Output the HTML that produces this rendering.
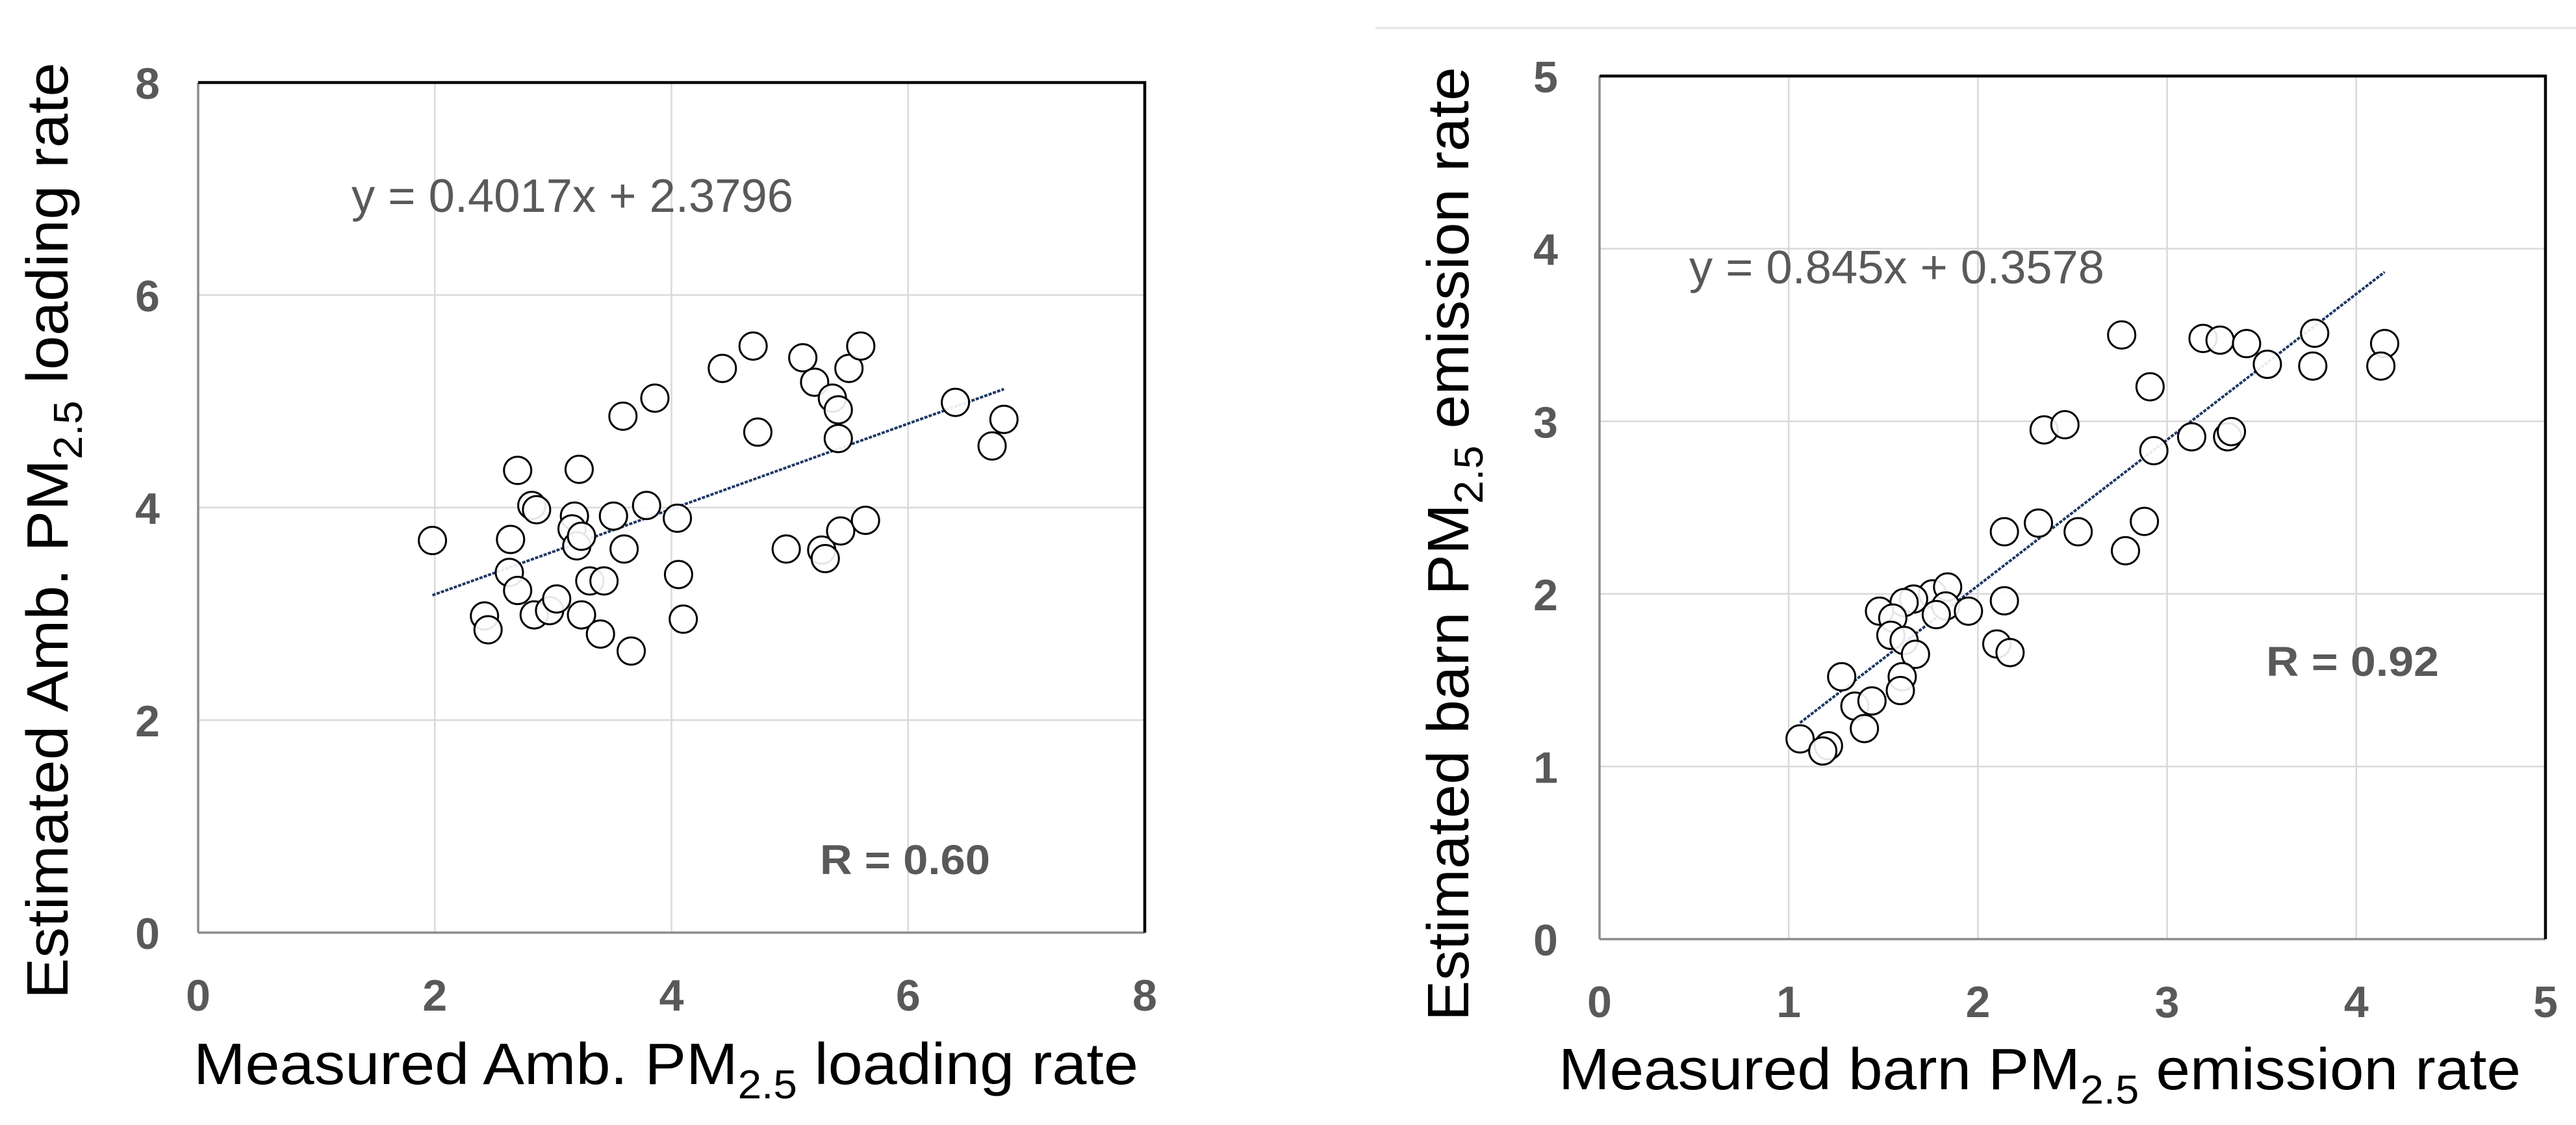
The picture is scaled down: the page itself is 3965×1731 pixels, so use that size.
<!DOCTYPE html>
<html><head><meta charset="utf-8"><style>
html,body{margin:0;padding:0;background:#fff;}
svg{display:block;font-family:"Liberation Sans",sans-serif;}
</style></head><body>
<svg id="chart" width="3965" height="1731" viewBox="0 0 3965 1731" xmlns="http://www.w3.org/2000/svg">
<line x1="2117" y1="43" x2="3965" y2="43" stroke="#e6e6e6" stroke-width="3"/>
</svg>
<script>
// Left chart data
const ambMeasured = [1.98,2.42,2.45,2.63,2.64,2.70,2.70,2.82,2.86,2.84,2.97,3.03,3.22,3.18,3.16,3.20,3.24,3.24,3.31,3.43,3.40,3.51,3.59,3.60,3.66,3.79,3.86,4.05,4.06,4.10,4.43,4.69,4.73,4.97,5.11,5.21,5.27,5.30,5.36,5.41,5.41,5.43,5.50,5.60,5.64,6.40,6.71,6.81];
const ambEstimated = [3.69,2.98,2.85,3.39,3.70,4.35,3.22,4.02,3.98,2.99,3.03,3.14,4.36,3.92,3.80,3.64,3.73,2.99,3.31,3.31,2.81,3.92,4.86,3.61,2.65,4.02,5.03,3.90,3.37,2.95,5.31,5.52,4.71,3.61,5.41,5.18,3.60,3.52,5.03,4.92,4.65,3.78,5.31,5.52,3.88,4.99,4.58,4.83];
const ambTicks = [0,2,4,6,8];
const ambFit = [0.4017, 2.3796];
const ambFitRange = [1.98, 6.81];
// Right chart data
const barnMeasured = [2.76,3.19,3.28,3.42,3.78,3.53,3.77,4.15,4.13,2.91,2.35,2.46,3.13,3.32,3.34,2.93,2.32,2.53,2.14,2.88,2.78,1.76,1.84,1.66,1.61,1.48,1.55,1.83,1.95,1.78,2.14,1.54,1.61,1.67,2.10,2.17,1.60,1.59,1.28,1.35,1.44,1.40,1.06,1.21,1.18];
const barnEstimated = [3.50,3.48,3.47,3.45,3.51,3.33,3.32,3.45,3.32,3.20,2.95,2.98,2.91,2.91,2.94,2.83,2.41,2.36,2.36,2.42,2.25,2.00,2.04,1.97,1.95,1.90,1.86,1.93,1.90,1.88,1.96,1.76,1.73,1.65,1.71,1.66,1.52,1.44,1.52,1.35,1.38,1.22,1.16,1.12,1.09];
const barnTicks = [0,1,2,3,4,5];
const barnFit = [0.845, 0.3578];
const barnFitRange = [1.06, 4.15];

const NS = "http://www.w3.org/2000/svg";
const svg = document.getElementById('chart');
function mk(tag, attrs, parent){
  const e = document.createElementNS(NS, tag);
  for (const k in attrs) e.setAttribute(k, attrs[k]);
  (parent||svg).appendChild(e);
  return e;
}

function drawChart(cfg){
  const g = mk('g', {});
  
  
  const L=cfg.L, R=cfg.R, T=cfg.T, B=cfg.B, max=cfg.max;
  const sx = v => L + v/max*(R-L);
  const sy = v => B - v/max*(B-T);
  // gridlines
  cfg.ticks.forEach(t=>{
    if (t>0 && t<max){
      const gv = mk('line',{x1:sx(t),y1:T,x2:sx(t),y2:B,stroke:'#d9d9d9','stroke-width':2.5},g);
      
      
      const gh = mk('line',{x1:L,y1:sy(t),x2:R,y2:sy(t),stroke:'#d9d9d9','stroke-width':2.5},g);
      
      
    }
  });
  // frame
  const ax = mk('line',{x1:L,y1:B,x2:R,y2:B,stroke:'#8c8c8c','stroke-width':3.5},g);
  
  
  const ay = mk('line',{x1:L,y1:T,x2:L,y2:B,stroke:'#8c8c8c','stroke-width':3.5},g);
  
  
  const ft = mk('path',{d:`M${L} ${T} H${R} V${B}`,fill:'none',stroke:'#000','stroke-width':4.5},g);
  
  
  // tick labels
  cfg.ticks.forEach(t=>{
    const tx = mk('text',{x:sx(t),y:B+120,'text-anchor':'middle','font-size':68,'font-weight':'bold',fill:'#595959'},g);
    tx.textContent = t;
    
    
    const ty = mk('text',{x:cfg.yLabX,y:sy(t)+25,'text-anchor':'end','font-size':68,'font-weight':'bold',fill:'#595959'},g);
    ty.textContent = t;
    
    
  });
  // fit line
  const fl = mk('line',{x1:sx(cfg.fitRange[0]),y1:sy(cfg.fit[0]*cfg.fitRange[0]+cfg.fit[1]),x2:sx(cfg.fitRange[1]),y2:sy(cfg.fit[0]*cfg.fitRange[1]+cfg.fit[1]),stroke:'#1f3864','stroke-width':4,'stroke-dasharray':'5 2'},g);
  
  
  // points
  cfg.xs.forEach((x,i)=>{
    const c = mk('circle',{cx:sx(x),cy:sy(cfg.ys[i]),r:21,fill:'#fff','fill-opacity':0.9,stroke:'#000','stroke-width':3},g);
    
    
  });
  // equation
  const eq = mk('text',{x:cfg.eqX,y:cfg.eqY,'font-size':72,fill:'#595959',textLength:cfg.eqW,lengthAdjust:'spacingAndGlyphs'},g);
  eq.textContent = cfg.eq;
  
  
  const rr = mk('text',{x:cfg.rX,y:cfg.rY,'font-size':64,'font-weight':'bold',fill:'#595959',textLength:cfg.rW,lengthAdjust:'spacingAndGlyphs'},g);
  rr.textContent = cfg.r;
  
  
  // x title
  const xt = mk('text',{x:cfg.xtX,y:cfg.xtY,'font-size':90,fill:'#000',textLength:cfg.xtW,lengthAdjust:'spacingAndGlyphs'},g);
  xt.innerHTML = cfg.xt[0]+'<tspan font-size="62" dy="22">2.5</tspan><tspan dy="-22"> '+cfg.xt[1]+'</tspan>';
  
  
  // y title
  const yt = mk('text',{x:0,y:0,'font-size':90,fill:'#000',textLength:cfg.ytW,lengthAdjust:'spacingAndGlyphs',transform:`translate(${cfg.ytX},${cfg.ytY}) rotate(-90)`},g);
  yt.innerHTML = cfg.yt[0]+'<tspan font-size="62" dy="22">2.5</tspan><tspan dy="-22"> '+cfg.yt[1]+'</tspan>';
  
  
}

drawChart({name:'ambient-chart',L:305,R:1762,T:127,B:1435,max:8,ticks:ambTicks,xs:ambMeasured,ys:ambEstimated,
  fit:ambFit,fitRange:ambFitRange,yLabX:246,
  eq:'y = 0.4017x + 2.3796',eqX:541,eqY:326,eqW:680,
  r:'R = 0.60',rX:1262,rY:1345,rW:262,
  xt:['Measured Amb. PM','loading rate'],xtX:298,xtY:1668,xtW:1454,
  yt:['Estimated Amb. PM','loading rate'],ytX:104,ytY:1537,ytW:1441});
drawChart({name:'barn-chart',L:2462,R:3918,T:117,B:1445,max:5,ticks:barnTicks,xs:barnMeasured,ys:barnEstimated,
  fit:barnFit,fitRange:barnFitRange,yLabX:2398,
  eq:'y = 0.845x + 0.3578',eqX:2600,eqY:436,eqW:639,
  r:'R = 0.92',rX:3488,rY:1040,rW:266,
  xt:['Measured barn PM','emission rate'],xtX:2399,xtY:1676,xtW:1481,
  yt:['Estimated barn PM','emission rate'],ytX:2260,ytY:1571,ytW:1468});
</script>
</body></html>
